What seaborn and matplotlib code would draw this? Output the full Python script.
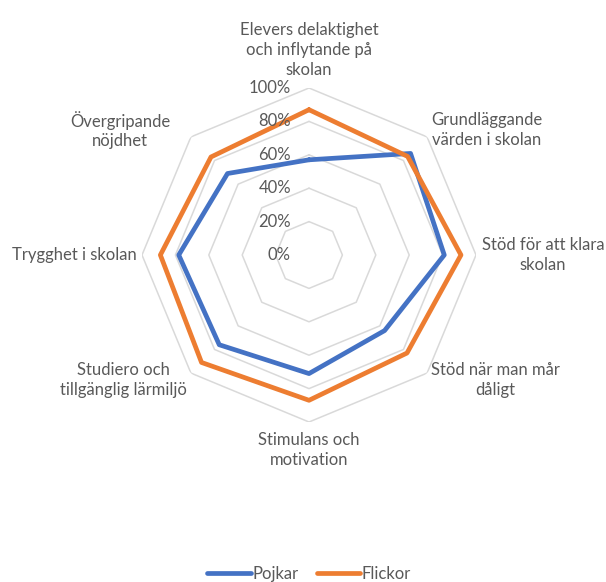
import numpy as np
import pandas as pd
import seaborn as sns
import matplotlib.pyplot as plt

# categories, clockwise from top
categories = ["Elevers delaktighet\noch inflytande på\nskolan",
              "Grundläggande\nvärden i skolan",
              "Stöd för att klara\nskolan",
              "Stöd när man mår\ndåligt",
              "Stimulans och\nmotivation",
              "Studiero och\ntillgänglig lärmiljö",
              "Trygghet i skolan",
              "Övergripande\nnöjdhet"]
pojkar = [0.57, 0.86, 0.81, 0.64, 0.71, 0.76, 0.78, 0.69]
flickor = [0.87, 0.835, 0.91, 0.83, 0.87, 0.91, 0.89, 0.83]
series = ["Pojkar", "Flickor"]
ticks = [0, 0.2, 0.4, 0.6, 0.8, 1.0]
tick_labels = ["0%", "20%", "40%", "60%", "80%", "100%"]

sns.set_style("white")
plt.rcParams['font.family'] = ['Lato', 'DejaVu Sans']
gray = "#595959"
colors = {"Pojkar": "#4472C4", "Flickor": "#ED7D31"}

n = len(categories)
angles = np.linspace(0, 2 * np.pi, n, endpoint=False)
closed = np.append(angles, angles[0] + 2 * np.pi)

rows = []
for name, vals in zip(series, [pojkar, flickor]):
    for i, a in enumerate(closed):
        rows.append({"theta": a, "value": vals[i % n], "serie": name})
df = pd.DataFrame(rows)

fig = plt.figure(figsize=(6.06, 5.82), dpi=100)
ax = fig.add_axes([0.2343, 0.2749, 0.5512, 0.5739], projection="polar")
ax.set_theta_zero_location("N")
ax.set_theta_direction(-1)

# octagon grid
for t in ticks[1:]:
    ax.plot(closed, [t] * len(closed), color="#D9D9D9", lw=1.1, zorder=0)

sns.lineplot(data=df, x="theta", y="value", hue="serie", palette=colors,
             sort=False, estimator=None, units="serie", lw=3.4, ax=ax, legend=False)

ax.set_ylim(0, 1)
ax.grid(False)
ax.spines["polar"].set_visible(False)
ax.set_xticks([])
ax.set_yticks([])
ax.set_xlabel("")
ax.set_ylabel("")

for t, lab in zip(ticks, tick_labels):
    ax.annotate(lab, xy=(0, t), xytext=(-13, 0), textcoords="offset points",
                ha="right", va="center", fontsize=12, color=gray)

has = ["center", "left", "left", "left", "center", "right", "right", "right"]
vas = ["bottom", "center", "center", "center", "top", "center", "center", "center"]
extra_x = [0, 0, 0, 0, 0, 0, 0, -12]
for a, lab, h, v, ex in zip(angles, categories, has, vas, extra_x):
    off = (4 * np.sin(a) + ex, 7 * np.cos(a))
    ax.annotate(lab, xy=(a, 1.0), xytext=off, textcoords="offset points",
                ha=h, va=v, multialignment="center", fontsize=12, color=gray,
                linespacing=1.3, annotation_clip=False)

handles = [plt.Line2D([], [], color=colors[s], lw=3.4) for s in series]
fig.legend(handles, series, loc="lower center", bbox_to_anchor=(0.51, -0.025),
           ncol=2, frameon=False, fontsize=12, handlelength=2.6,
           handletextpad=0.1, columnspacing=1.1, labelcolor=gray)

fig.savefig("out.png", dpi=100)
